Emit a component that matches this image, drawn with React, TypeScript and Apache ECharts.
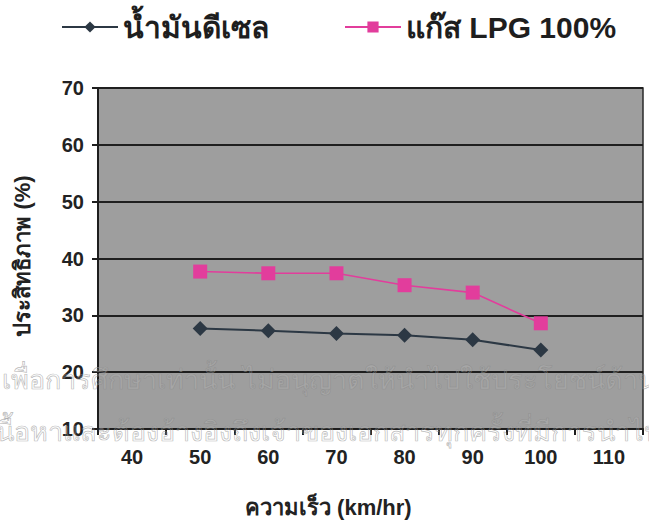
import React, { useEffect, useRef } from "react";
import * as echarts from "echarts";

// Speed categories (km/hr) and efficiency (%) per fuel
const speeds = ["40", "50", "60", "70", "80", "90", "100", "110"];
const dieselEff: (number | null)[] = [null, 27.7, 27.3, 26.8, 26.5, 25.7, 23.9, null];
const lpgEff: (number | null)[] = [null, 37.7, 37.4, 37.4, 35.3, 34.0, 28.6, null];
const yTicks = { min: 10, max: 70, interval: 10 };

const seriesNames = ["น้ำมันดีเซล", "แก๊ส LPG 100%"];
const xTitle = "ความเร็ว (km/hr)";
const yTitle = "ประสิทธิภาพ (%)";
const noticeLines = [
  "เพื่อการศึกษาเท่านั้น ไม่อนุญาตให้นำไปใช้ประโยชน์ด้านการค้า",
  "เนื้อหาและต้องอ้างอิงถึงเจ้าของเอกสารทุกครั้งที่มีการนำไปใช้",
];

const FONT = "Arial, 'Liberation Sans', 'Noto Sans', sans-serif";

export default function App() {
  const ref = useRef<HTMLDivElement>(null);

  useEffect(() => {
    if (!ref.current) return;
    const chart = echarts.init(ref.current, undefined, { renderer: "svg" });
    const notice = (text: string, x: number, y: number) => ({
      type: "text",
      x,
      y,
      z: 100,
      silent: true,
      style: {
        text,
        fontSize: 27,
        fill: "rgba(255,255,255,0.1)",
        stroke: "rgba(135,135,135,0.6)",
        lineWidth: 0.7,
        fontFamily: FONT,
        verticalAlign: "middle",
      },
    });
    chart.setOption({
      animation: false,
      backgroundColor: "#ffffff",
      textStyle: { fontFamily: FONT },
      legend: {
        top: 7,
        left: 56,
        itemWidth: 56,
        itemHeight: 14,
        itemGap: 75,
        textStyle: { fontSize: 30, fontWeight: "bold", color: "#1e1e1e", fontFamily: FONT },
        data: seriesNames,
      },
      grid: {
        left: 98,
        right: 6,
        top: 88,
        bottom: 92,
        show: true,
        backgroundColor: "#9e9e9e",
        borderColor: "#2a2a2a",
        borderWidth: 1.5,
      },
      xAxis: {
        type: "category",
        data: speeds,
        boundaryGap: true,
        axisLine: { lineStyle: { color: "#1e1e1e", width: 2 } },
        axisTick: { show: true, inside: false, length: 6, lineStyle: { color: "#1e1e1e", width: 2 } },
        axisLabel: { fontSize: 20, fontWeight: "bold", color: "#222", margin: 18, fontFamily: FONT },
        splitLine: { show: false },
      },
      yAxis: {
        type: "value",
        min: yTicks.min,
        max: yTicks.max,
        interval: yTicks.interval,
        axisLine: { show: true, lineStyle: { color: "#1e1e1e", width: 2 } },
        axisTick: { show: true, inside: false, length: 6, lineStyle: { color: "#1e1e1e", width: 2 } },
        axisLabel: { fontSize: 20, fontWeight: "bold", color: "#222", margin: 14, fontFamily: FONT },
        splitLine: { show: true, lineStyle: { color: "#1f1f1f", width: 2 } },
      },
      series: [
        {
          name: seriesNames[0],
          type: "line",
          data: dieselEff,
          symbol: "diamond",
          symbolSize: 15,
          itemStyle: { color: "#2c3844" },
          lineStyle: { color: "#2c3844", width: 2 },
          z: 3,
        },
        {
          name: seriesNames[1],
          type: "line",
          data: lpgEff,
          symbol: "rect",
          symbolSize: 14,
          itemStyle: { color: "#e23d9c" },
          lineStyle: { color: "#e23d9c", width: 1.6 },
          z: 3,
        },
      ],
      graphic: [
        {
          type: "text",
          x: 245,
          y: 507,
          style: {
            text: xTitle,
            fontSize: 22,
            fontWeight: "bold",
            fill: "#222",
            fontFamily: FONT,
            verticalAlign: "middle",
          },
        },
        {
          type: "text",
          x: 22,
          y: 256,
          rotation: Math.PI / 2,
          style: {
            text: yTitle,
            fontSize: 22,
            fontWeight: "bold",
            fill: "#222",
            fontFamily: FONT,
            align: "center",
            verticalAlign: "middle",
          },
        },
        notice(noticeLines[0], 2, 380),
        notice(noticeLines[1], -13, 432),
      ],
    });
    return () => chart.dispose();
  }, []);

  return <div ref={ref} style={{ width: 649, height: 521, position: "absolute", left: 0, top: 0 }} />;
}
